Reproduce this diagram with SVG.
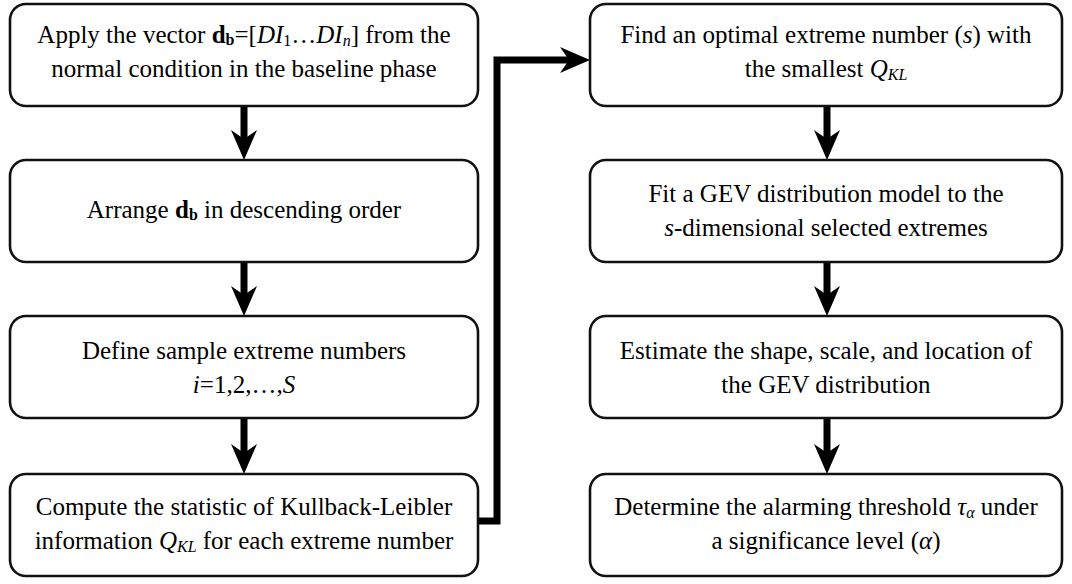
<svg xmlns="http://www.w3.org/2000/svg" width="1072" height="584" viewBox="0 0 1072 584">
<defs>
<marker id="ah" viewBox="0 0 30 26" refX="10" refY="13" markerWidth="30" markerHeight="26" markerUnits="userSpaceOnUse" orient="auto">
<path d="M0,0 L30,13 L0,26 L9,13 Z" fill="#000" stroke="none"/>
</marker>
</defs>
<rect width="1072" height="584" fill="#fff"/>
<g id="connectors" fill="none" stroke="#000" stroke-width="7">
<line x1="244" y1="106" x2="244" y2="140" marker-end="url(#ah)"/>
<line x1="244" y1="262" x2="244" y2="296" marker-end="url(#ah)"/>
<line x1="244" y1="418" x2="244" y2="454" marker-end="url(#ah)"/>
<polyline points="478,521 497,521 497,60 570,60" marker-end="url(#ah)"/>
<line x1="827" y1="106" x2="827" y2="140" marker-end="url(#ah)"/>
<line x1="827" y1="262" x2="827" y2="296" marker-end="url(#ah)"/>
<line x1="827" y1="418" x2="827" y2="454" marker-end="url(#ah)"/>
</g>
<g id="n1">
<rect x="10" y="4" width="468" height="102" rx="16" fill="#fff" stroke="#111" stroke-width="2.6"/>
<text x="244" y="43" font-family="Liberation Serif, Tinos, Times New Roman, serif" font-size="25" text-anchor="middle">Apply the vector <tspan font-weight="bold">d</tspan><tspan font-weight="bold" font-size="16" dy="2">b</tspan><tspan dy="-2">=[</tspan><tspan font-style="italic">DI</tspan><tspan font-size="16" dy="3">1</tspan><tspan dy="-3">…</tspan><tspan font-style="italic">DI</tspan><tspan font-style="italic" font-size="16" dy="3">n</tspan><tspan dy="-3">] from the</tspan></text>
<text x="244" y="77" font-family="Liberation Serif, Tinos, Times New Roman, serif" font-size="25" text-anchor="middle">normal condition in the baseline phase</text>
</g>
<g id="n2">
<rect x="10" y="160" width="468" height="102" rx="16" fill="#fff" stroke="#111" stroke-width="2.6"/>
<text x="244" y="218" font-family="Liberation Serif, Tinos, Times New Roman, serif" font-size="25" text-anchor="middle">Arrange <tspan font-weight="bold">d</tspan><tspan font-weight="bold" font-size="16" dy="2">b</tspan><tspan dy="-2"> in descending order</tspan></text>
</g>
<g id="n3">
<rect x="10" y="316" width="468" height="102" rx="16" fill="#fff" stroke="#111" stroke-width="2.6"/>
<text x="244" y="359" font-family="Liberation Serif, Tinos, Times New Roman, serif" font-size="25" text-anchor="middle">Define sample extreme numbers</text>
<text x="244" y="393" font-family="Liberation Serif, Tinos, Times New Roman, serif" font-size="25" text-anchor="middle"><tspan font-style="italic">i</tspan>=1,2,…,<tspan font-style="italic">S</tspan></text>
</g>
<g id="n4">
<rect x="10" y="474" width="468" height="102" rx="16" fill="#fff" stroke="#111" stroke-width="2.6"/>
<text x="244" y="515" font-family="Liberation Serif, Tinos, Times New Roman, serif" font-size="25" text-anchor="middle">Compute the statistic of Kullback-Leibler</text>
<text x="244" y="549" font-family="Liberation Serif, Tinos, Times New Roman, serif" font-size="25" text-anchor="middle">information <tspan font-style="italic">Q</tspan><tspan font-style="italic" font-size="16" dy="3">KL</tspan><tspan dy="-3"> for each extreme number</tspan></text>
</g>
<g id="n5">
<rect x="590" y="4" width="472" height="102" rx="16" fill="#fff" stroke="#111" stroke-width="2.6"/>
<text x="826" y="43" font-family="Liberation Serif, Tinos, Times New Roman, serif" font-size="25" text-anchor="middle">Find an optimal extreme number (<tspan font-style="italic">s</tspan>) with</text>
<text x="826" y="77" font-family="Liberation Serif, Tinos, Times New Roman, serif" font-size="25" text-anchor="middle">the smallest <tspan font-style="italic">Q</tspan><tspan font-style="italic" font-size="16" dy="3">KL</tspan></text>
</g>
<g id="n6">
<rect x="590" y="160" width="472" height="102" rx="16" fill="#fff" stroke="#111" stroke-width="2.6"/>
<text x="826" y="202" font-family="Liberation Serif, Tinos, Times New Roman, serif" font-size="25" text-anchor="middle">Fit a GEV distribution model to the</text>
<text x="826" y="236" font-family="Liberation Serif, Tinos, Times New Roman, serif" font-size="25" text-anchor="middle"><tspan font-style="italic">s</tspan>-dimensional selected extremes</text>
</g>
<g id="n7">
<rect x="590" y="316" width="472" height="102" rx="16" fill="#fff" stroke="#111" stroke-width="2.6"/>
<text x="826" y="359" font-family="Liberation Serif, Tinos, Times New Roman, serif" font-size="25" text-anchor="middle">Estimate the shape, scale, and location of</text>
<text x="826" y="393" font-family="Liberation Serif, Tinos, Times New Roman, serif" font-size="25" text-anchor="middle">the GEV distribution</text>
</g>
<g id="n8">
<rect x="590" y="474" width="472" height="102" rx="16" fill="#fff" stroke="#111" stroke-width="2.6"/>
<text x="826" y="515" font-family="Liberation Serif, Tinos, Times New Roman, serif" font-size="25" text-anchor="middle">Determine the alarming threshold <tspan font-style="italic">τ</tspan><tspan font-style="italic" font-size="16" dy="3">α</tspan><tspan dy="-3"> under</tspan></text>
<text x="826" y="549" font-family="Liberation Serif, Tinos, Times New Roman, serif" font-size="25" text-anchor="middle">a significance level (<tspan font-style="italic">α</tspan>)</text>
</g>
</svg>
